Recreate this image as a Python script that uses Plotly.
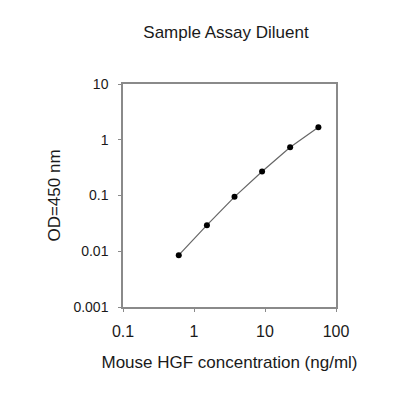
import plotly.graph_objects as go

concentration = [0.61, 1.52, 3.72, 9.1, 22.6, 56.5]
od450 = [0.0085, 0.0294, 0.0946, 0.269, 0.734, 1.67]
x_ticks = [0.1, 1, 10, 100]
x_tick_labels = ["0.1", "1", "10", "100"]
y_ticks = [0.001, 0.01, 0.1, 1, 10]
y_tick_labels = ["0.001", "0.01", "0.1", "1", "10"]

fig = go.Figure()
fig.add_trace(go.Scatter(
    x=concentration, y=od450, mode="lines+markers",
    line=dict(color="#666666", width=1.2),
    marker=dict(color="black", size=6),
    showlegend=False,
))

font = "Liberation Sans, Arial, sans-serif"
axis_common = dict(
    type="log", showgrid=False, zeroline=False,
    showline=True, linecolor="#8a8a8a", linewidth=1.5, mirror=True,
    ticks="outside", ticklen=3, tickcolor="#8a8a8a",
)
fig.update_layout(
    width=400, height=400,
    margin=dict(l=115, r=72, t=76, b=101),
    paper_bgcolor="white", plot_bgcolor="white",
    title=dict(text="Sample Assay Diluent", x=0.545, xanchor="center",
               y=0.94, yanchor="middle",
               font=dict(family=font, size=17, color="#1a1a1a")),
    xaxis=dict(range=[-1, 2], tickvals=x_ticks, ticktext=x_tick_labels,
               ticklabelstandoff=6,
               tickfont=dict(family=font, size=16, color="#1a1a1a"),
               title=dict(text="Mouse HGF concentration (ng/ml)", standoff=17,
                          font=dict(family=font, size=17, color="#1a1a1a")),
               **axis_common),
    yaxis=dict(range=[-3, 1], tickvals=y_ticks, ticktext=y_tick_labels,
               ticklabelstandoff=7,
               tickfont=dict(family=font, size=14, color="#1a1a1a"),
               title=dict(text="OD=450 nm", standoff=8,
                          font=dict(family=font, size=17, color="#1a1a1a")),
               **axis_common),
)
fig.write_html("out.html")
